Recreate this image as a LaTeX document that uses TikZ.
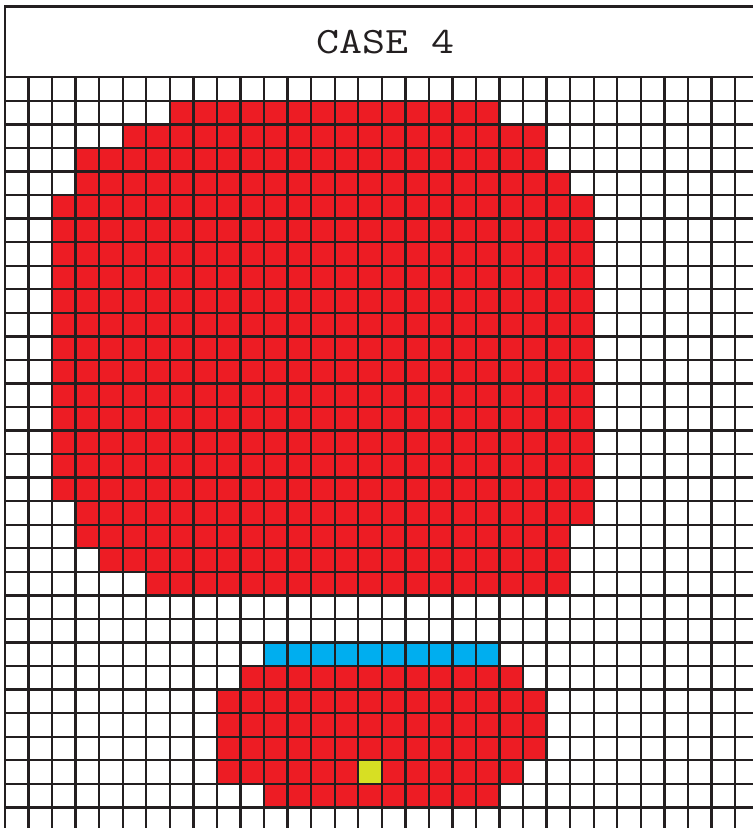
\documentclass[tikz,border=0pt]{standalone}
\usepackage{xcolor}
\usepackage{tikz}

\definecolor{blobred}{HTML}{ED1C24}
\definecolor{bandblue}{HTML}{00AEEF}
\definecolor{seedyellow}{HTML}{D7DF23}
\definecolor{gridgray}{HTML}{231F20}

\begin{document}
\begin{tikzpicture}[
  x=0.6cm, y=0.6cm,
  gridline/.style={draw=gridgray, line width=1.7pt},
  redcell/.style={fill=blobred},
  bluecell/.style={fill=bandblue},
  seedcell/.style={fill=seedyellow},
]
% Frame of the page
\useasboundingbox (-0.2123,3.282) rectangle (31.762,-31.877);
\clip (-0.2123,3.282) rectangle (31.762,-31.877);
\fill[white] (-0.2123,3.282) rectangle (31.762,-31.877);

% Title bar
\draw[gridline] (0,0) rectangle (33,3);
\node[font=\fontsize{27}{30}\selectfont\ttfamily, text=gridgray] (title) at (16.14,1.5) {\scalebox{1.2}[1]{CASE 4}};

% Upper blob, one row at a time: row/first column/last column
\foreach \r/\a/\b in {1/7/20, 2/5/22, 3/3/22, 4/3/23, 5/2/24, 6/2/24, 7/2/24, 8/2/24,
  9/2/24, 10/2/24, 11/2/24, 12/2/24, 13/2/24, 14/2/24, 15/2/24, 16/2/24, 17/2/24,
  18/3/24, 19/3/23, 20/4/23, 21/6/23} {
  \fill[redcell] (\a,-\r) rectangle (\b+1,-\r-1);
}

% Lower blob
\foreach \r/\a/\b in {25/10/21, 26/9/22, 27/9/22, 28/9/22, 29/9/21, 30/11/20} {
  \fill[redcell] (\a,-\r) rectangle (\b+1,-\r-1);
}

% Blue row on top of the lower blob
\fill[bluecell] (11,-24) rectangle (21,-25);

% Yellow cell
\fill[seedcell] (15,-29) rectangle (16,-30);

% Grid lines
\foreach \i in {0,...,32} {
  \draw[gridline] (\i,0) -- (\i,-33);
}
\foreach \j in {0,...,32} {
  \draw[gridline] (0,-\j) -- (33,-\j);
}
\end{tikzpicture}
\end{document}
